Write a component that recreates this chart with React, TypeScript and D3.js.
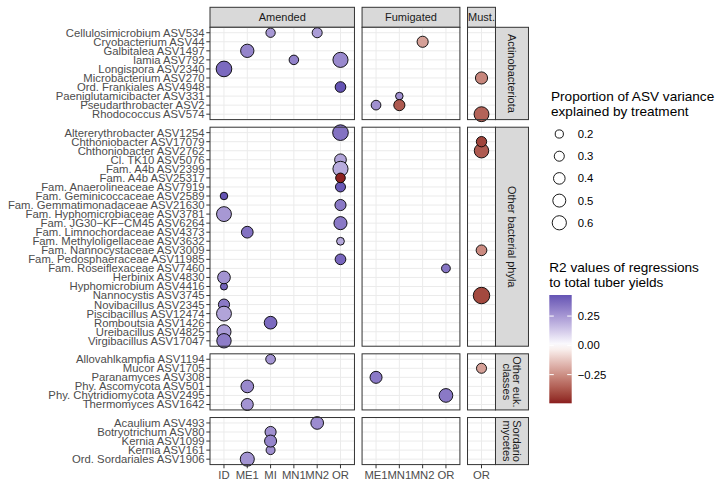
import React from "react";
import * as d3 from "d3";

// treatment levels per column facet
const amendedLevels = ["ID", "ME1", "MI", "MN1", "MN2", "OR"];
const fumigatedLevels = ["ME1", "MN1", "MN2", "OR"];
const mustLevels = ["OR"];

// taxa per row facet
const actinoTaxa = [
  "Cellulosimicrobium ASV534", "Cryobacterium ASV44", "Galbitalea ASV1497", "Iamia ASV792",
  "Longispora ASV2340", "Microbacterium ASV270", "Ord. Frankiales ASV4948",
  "Paeniglutamicibacter ASV331", "Pseudarthrobacter ASV2", "Rhodococcus ASV574",
];
const otherBactTaxa = [
  "Altererythrobacter ASV1254", "Chthoniobacter ASV17079", "Chthoniobacter ASV2762",
  "Cl. TK10 ASV5076", "Fam. A4b ASV2399", "Fam. A4b ASV25317", "Fam. Anaerolineaceae ASV7919",
  "Fam. Geminicoccaceae ASV2589", "Fam. Gemmatimonadaceae ASV21630",
  "Fam. Hyphomicrobiaceae ASV3781", "Fam. JG30\u2212KF\u2212CM45 ASV6264",
  "Fam. Limnochordaceae ASV4373", "Fam. Methyloligellaceae ASV3632",
  "Fam. Nannocystaceae ASV3009", "Fam. Pedosphaeraceae ASV11985", "Fam. Roseiflexaceae ASV7460",
  "Herbinix ASV4830", "Hyphomicrobium ASV4416", "Nannocystis ASV3745", "Novibacillus ASV2345",
  "Piscibacillus ASV12474", "Romboutsia ASV1426", "Ureibacillus ASV4825", "Virgibacillus ASV17047",
];
const eukTaxa = [
  "Allovahlkampfia ASV1194", "Mucor ASV1705", "Paranamyces ASV308", "Phy. Ascomycota ASV501",
  "Phy. Chytridiomycota ASV2495", "Thermomyces ASV1642",
];
const sordTaxa = [
  "Acaulium ASV493", "Botryotrichum ASV80", "Kernia ASV1099", "Kernia ASV161",
  "Ord. Sordariales ASV1906",
];

// [taxon, treatment, level, proportion of variance, R2]
const actinoPoints = [
  ["Cellulosimicrobium ASV534", "Amended", "MI", 0.26, 0.25],
  ["Cellulosimicrobium ASV534", "Amended", "MN2", 0.3, 0.24],
  ["Cryobacterium ASV44", "Fumigated", "MN2", 0.37, -0.21],
  ["Galbitalea ASV1497", "Amended", "ME1", 0.53, 0.3],
  ["Iamia ASV792", "Amended", "MN1", 0.27, 0.31],
  ["Iamia ASV792", "Amended", "OR", 0.68, 0.29],
  ["Longispora ASV2340", "Amended", "ID", 0.73, 0.37],
  ["Microbacterium ASV270", "Must.", "OR", 0.44, -0.27],
  ["Ord. Frankiales ASV4948", "Amended", "OR", 0.34, 0.43],
  ["Paeniglutamicibacter ASV331", "Fumigated", "MN1", 0.17, 0.27],
  ["Pseudarthrobacter ASV2", "Fumigated", "ME1", 0.28, 0.27],
  ["Pseudarthrobacter ASV2", "Fumigated", "MN1", 0.37, -0.37],
  ["Rhodococcus ASV574", "Must.", "OR", 0.66, -0.35],
];
const otherBactPoints = [
  ["Altererythrobacter ASV1254", "Amended", "OR", 0.73, 0.35],
  ["Chthoniobacter ASV2762", "Must.", "OR", 0.62, -0.37],
  ["Chthoniobacter ASV17079", "Must.", "OR", 0.32, -0.42],
  ["Cl. TK10 ASV5076", "Amended", "OR", 0.41, 0.22],
  ["Fam. A4b ASV2399", "Amended", "OR", 0.68, 0.2],
  ["Fam. Anaerolineaceae ASV7919", "Amended", "OR", 0.3, 0.42],
  ["Fam. A4b ASV25317", "Amended", "OR", 0.28, -0.49],
  ["Fam. Geminicoccaceae ASV2589", "Amended", "ID", 0.17, 0.43],
  ["Fam. Gemmatimonadaceae ASV21630", "Amended", "OR", 0.37, 0.33],
  ["Fam. Hyphomicrobiaceae ASV3781", "Amended", "ID", 0.66, 0.25],
  ["Fam. JG30\u2212KF\u2212CM45 ASV6264", "Amended", "OR", 0.51, 0.33],
  ["Fam. Limnochordaceae ASV4373", "Amended", "ME1", 0.41, 0.35],
  ["Fam. Methyloligellaceae ASV3632", "Amended", "OR", 0.18, 0.21],
  ["Fam. Nannocystaceae ASV3009", "Must.", "OR", 0.34, -0.26],
  ["Fam. Pedosphaeraceae ASV11985", "Amended", "OR", 0.34, 0.38],
  ["Fam. Roseiflexaceae ASV7460", "Fumigated", "OR", 0.23, 0.34],
  ["Hyphomicrobium ASV4416", "Amended", "ID", 0.15, 0.39],
  ["Herbinix ASV4830", "Amended", "ID", 0.48, 0.26],
  ["Nannocystis ASV3745", "Must.", "OR", 0.81, -0.41],
  ["Novibacillus ASV2345", "Amended", "ID", 0.37, 0.33],
  ["Piscibacillus ASV12474", "Amended", "ID", 0.66, 0.22],
  ["Romboutsia ASV1426", "Amended", "MI", 0.48, 0.37],
  ["Ureibacillus ASV4825", "Amended", "ID", 0.59, 0.24],
  ["Virgibacillus ASV17047", "Amended", "ID", 0.62, 0.32],
];
const eukPoints = [
  ["Allovahlkampfia ASV1194", "Amended", "MI", 0.28, 0.26],
  ["Mucor ASV1705", "Must.", "OR", 0.3, -0.21],
  ["Paranamyces ASV308", "Fumigated", "ME1", 0.43, 0.33],
  ["Phy. Ascomycota ASV501", "Amended", "ME1", 0.48, 0.29],
  ["Phy. Chytridiomycota ASV2495", "Fumigated", "OR", 0.56, 0.33],
  ["Thermomyces ASV1642", "Amended", "ME1", 0.43, 0.26],
];
const sordPoints = [
  ["Acaulium ASV493", "Amended", "MN2", 0.48, 0.28],
  ["Botryotrichum ASV80", "Amended", "MI", 0.37, 0.27],
  ["Kernia ASV161", "Amended", "MI", 0.24, 0.27],
  ["Kernia ASV1099", "Amended", "MI", 0.43, 0.3],
  ["Ord. Sordariales ASV1906", "Amended", "ME1", 0.59, 0.26],
];

const sizeBreaks = [0.2, 0.3, 0.4, 0.5, 0.6];
const colorBreaks = [0.25, 0, -0.25];
const colorLimits = [-0.495, 0.43];

const colFacets = [
  { name: "Amended", levels: amendedLevels },
  { name: "Fumigated", levels: fumigatedLevels },
  { name: "Must.", levels: mustLevels },
];
const rowFacets = [
  { label: ["Actinobacteriota"], taxa: actinoTaxa, points: actinoPoints },
  { label: ["Other bacterial phyla"], taxa: otherBactTaxa, points: otherBactPoints },
  { label: ["Other euk.", "classes"], taxa: eukTaxa, points: eukPoints },
  { label: ["Sordario", "mycetes"], taxa: sordTaxa, points: sordPoints },
];

const FONT = "'Liberation Sans', Arial, Helvetica, sans-serif";
const LOW = "#8B1E1E";
const HIGH = "#4A3DA8";

const fillColor = (v: number) => {
  const m = Math.max(Math.abs(colorLimits[0]), Math.abs(colorLimits[1]));
  return v >= 0
    ? d3.interpolateLab("#ffffff", HIGH)(Math.min(1, v / m))
    : d3.interpolateLab("#ffffff", LOW)(Math.min(1, -v / m));
};

export default function App() {
  const left = 210;
  const top = 27.3;
  const colStep = 23.3;
  const rowStep = 9.05;
  const gap = 7.6;
  const stripW = 33;

  const rSize = d3.scaleSqrt().domain([0, 0.6]).range([0, 7.1]);

  // column facet geometry
  let cx = left;
  const cols = colFacets.map((f) => {
    const w = (f.levels.length - 1 + 1.2) * colStep;
    const x = d3.scalePoint<string>().domain(f.levels).range([cx, cx + w]).padding(0.6);
    const c = { ...f, x0: cx, w, x };
    cx += w + gap;
    return c;
  });
  const rightEdge = cols[cols.length - 1].x0 + cols[cols.length - 1].w;

  let cy = top;
  const rows = rowFacets.map((f) => {
    const h = (f.taxa.length - 1 + 1.2) * rowStep;
    const y = d3.scalePoint<string>().domain(f.taxa).range([cy, cy + h]).padding(0.6);
    const r = { ...f, y0: cy, h, y };
    cy += h + gap;
    return r;
  });
  const bottom = rows[rows.length - 1].y0 + rows[rows.length - 1].h;

  // color bar
  const cbTop = 295;
  const cbBottom = 403.3;
  const cbY = d3.scaleLinear().domain(colorLimits).range([cbBottom, cbTop]);
  const stops = d3.range(0, 1.0001, 0.05).map((t) => ({
    t,
    c: fillColor(colorLimits[1] - t * (colorLimits[1] - colorLimits[0])),
  }));

  return (
    <svg width={722} height={492} style={{ position: "absolute", left: 0, top: 0 }} fontFamily={FONT}>
      <defs>
        <linearGradient id="cbar" x1="0" y1="0" x2="0" y2="1">
          {stops.map((s, i) => (
            <stop key={i} offset={s.t} stopColor={s.c} />
          ))}
        </linearGradient>
      </defs>
      <rect width={722} height={492} fill="white" />

      {/* column strips */}
      {cols.map((c) => (
        <g key={c.name}>
          <rect x={c.x0} y={7.3} width={c.w} height={top - 7.3} fill="#D9D9D9" stroke="#333" strokeWidth={1} />
          <text x={c.x0 + c.w / 2} y={17.3} dy="0.35em" textAnchor="middle" fontSize={11} fill="#1A1A1A">
            {c.name}
          </text>
        </g>
      ))}

      {rows.map((r, ri) => (
        <g key={ri}>
          {/* row strip */}
          <rect x={rightEdge} y={r.y0} width={stripW} height={r.h} fill="#D9D9D9" stroke="#333" strokeWidth={1} />
          <g transform={`translate(${rightEdge + stripW / 2},${r.y0 + r.h / 2}) rotate(90)`}>
            {r.label.map((l, li) => (
              <text key={li} x={0} y={(li - (r.label.length - 1) / 2) * 10} dy="0.35em" textAnchor="middle"
                fontSize={11} fill="#1A1A1A">{l}</text>
            ))}
          </g>

          {/* y axis */}
          {r.taxa.map((t) => (
            <g key={t}>
              <line x1={left - 3.7} x2={left} y1={r.y(t)} y2={r.y(t)} stroke="#333" strokeWidth={1} />
              <text x={left - 5.5} y={r.y(t)} dy="0.35em" textAnchor="end" fontSize={11.3} fill="#4D4D4D">{t}</text>
            </g>
          ))}

          {cols.map((c) => (
            <g key={c.name}>
              <rect x={c.x0} y={r.y0} width={c.w} height={r.h} fill="white" />
              {r.taxa.map((t) => (
                <line key={t} x1={c.x0} x2={c.x0 + c.w} y1={r.y(t)} y2={r.y(t)} stroke="#EBEBEB" strokeWidth={1} />
              ))}
              {c.levels.map((lv) => (
                <line key={lv} x1={c.x(lv)} x2={c.x(lv)} y1={r.y0} y2={r.y0 + r.h} stroke="#EBEBEB" strokeWidth={1} />
              ))}
              {r.points
                .filter((p) => p[1] === c.name)
                .map((p, i) => (
                  <circle key={i} cx={c.x(p[2] as string)} cy={r.y(p[0] as string)} r={rSize(p[3] as number)}
                    fill={fillColor(p[4] as number)} stroke="black" strokeWidth={0.9} />
                ))}
              <rect x={c.x0} y={r.y0} width={c.w} height={r.h} fill="none" stroke="#333" strokeWidth={1} />
            </g>
          ))}
        </g>
      ))}

      {/* x axis */}
      {cols.map((c) =>
        c.levels.map((lv) => (
          <g key={c.name + lv}>
            <line x1={c.x(lv)} x2={c.x(lv)} y1={bottom} y2={bottom + 3.7} stroke="#333" strokeWidth={1} />
            <text x={c.x(lv)} y={bottom + 6} dy="0.75em" textAnchor="middle" fontSize={11.3} fill="#4D4D4D">{lv}</text>
          </g>
        ))
      )}

      {/* size legend */}
      <text x={551} y={101.4} fontSize={13.6} fill="black">Proportion of ASV variance</text>
      <text x={551} y={116.4} fontSize={13.6} fill="black">explained by treatment</text>
      {sizeBreaks.map((b, i) => (
        <g key={b}>
          <circle cx={559.3} cy={134 + i * 22.2} r={rSize(b)} fill="white" stroke="black" strokeWidth={0.9} />
          <text x={577.7} y={134 + i * 22.2} dy="0.35em" fontSize={11.3} fill="black">{b.toFixed(1)}</text>
        </g>
      ))}

      {/* color legend */}
      <text x={549.3} y={272} fontSize={13.6} fill="black">R2 values of regressions</text>
      <text x={549.3} y={287} fontSize={13.6} fill="black">to total tuber yields</text>
      <rect x={549.3} y={cbTop} width={22.4} height={cbBottom - cbTop} fill="url(#cbar)" />
      {colorBreaks.map((b) => (
        <g key={b}>
          <line x1={549.3} x2={553.8} y1={cbY(b)} y2={cbY(b)} stroke="white" strokeWidth={1} />
          <line x1={567.2} x2={571.7} y1={cbY(b)} y2={cbY(b)} stroke="white" strokeWidth={1} />
          <text x={577.7} y={cbY(b)} dy="0.35em" fontSize={11.3} fill="black">
            {b === 0 ? "0.00" : b < 0 ? "\u2212" + Math.abs(b).toFixed(2) : b.toFixed(2)}
          </text>
        </g>
      ))}
    </svg>
  );
}
